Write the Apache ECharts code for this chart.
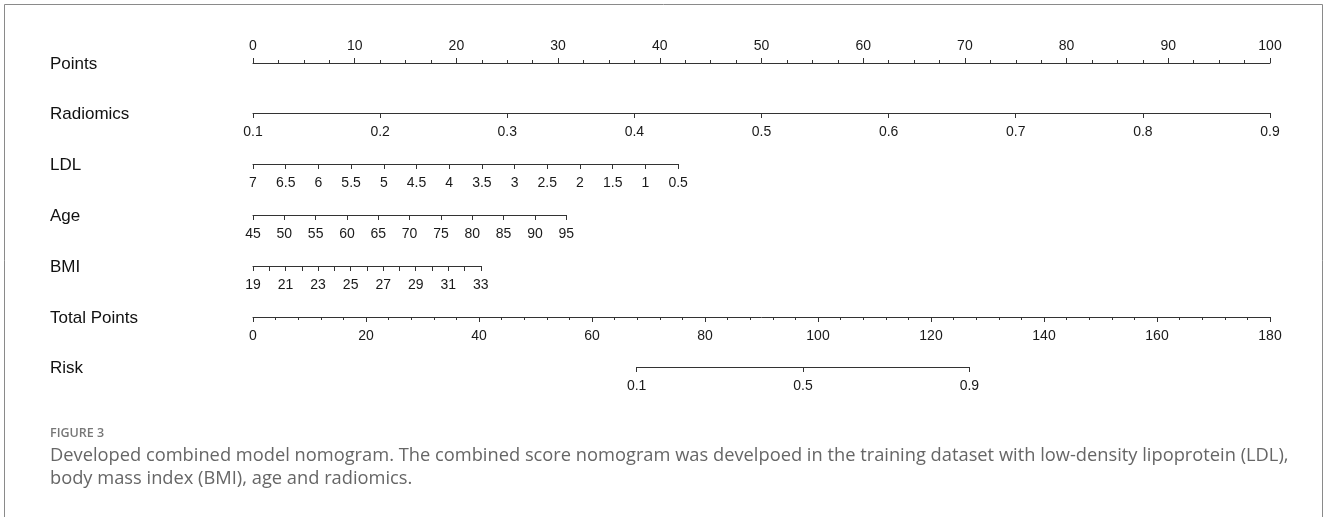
<!DOCTYPE html>
<html>
<head>
<meta charset="utf-8">
<title>Combined model nomogram</title>
<script src="https://cdn.jsdelivr.net/npm/echarts@6/dist/echarts.min.js"></script>
<style>
  html, body { margin: 0; padding: 0; background: #fff; }
  #chart { width: 1328px; height: 517px; }
</style>
</head>
<body>
<div id="chart"></div>
<script>
// ---- Nomogram scales (values as printed on each axis) ----
const rowNames = ['Points', 'Radiomics', 'LDL', 'Age', 'BMI', 'Total Points', 'Risk'];

const pointsTicks = [0, 10, 20, 30, 40, 50, 60, 70, 80, 90, 100];

const radiomicsTicks = [0.1, 0.2, 0.3, 0.4, 0.5, 0.6, 0.7, 0.8, 0.9];
const radiomicsPoints = [0, 100];          // points at first / last tick

const ldlTicks = [7, 6.5, 6, 5.5, 5, 4.5, 4, 3.5, 3, 2.5, 2, 1.5, 1, 0.5];
const ldlPoints = [0, 41.8];

const ageTicks = [45, 50, 55, 60, 65, 70, 75, 80, 85, 90, 95];
const agePoints = [0, 30.8];

const bmiTicks = [19, 20, 21, 22, 23, 24, 25, 26, 27, 28, 29, 30, 31, 32, 33];
const bmiLabels = [19, 21, 23, 25, 27, 29, 31, 33];
const bmiPoints = [0, 22.4];

const totalTicks = [0, 20, 40, 60, 80, 100, 120, 140, 160, 180];

const riskTicks = [0.1, 0.5, 0.9];
const riskTotalPoints = [67.9, 126.8];     // total points at risk 0.1 / 0.9

// ---- Layout ----
const W = 1328, H = 517;
const scaleLeft = 253, scaleRight = 1270;
const scaleWidth = scaleRight - scaleLeft;
const rowY = [63, 113, 164, 215, 266, 317, 367];
const labelX = 50;
const axisColor = '#333';
const tickFont = { fontFamily: '"Liberation Sans", Arial, sans-serif', fontSize: 14, color: '#1a1a1a' };

const logit = p => Math.log(p / (1 - p));
const ptsToPx = p => scaleLeft + p / 100 * scaleWidth;
const totalToPx = t => scaleLeft + t / totalTicks[totalTicks.length - 1] * scaleWidth;

const grids = [], xAxes = [], yAxes = [];

function addRow(idx, left, right, axis, top) {
  const y = rowY[idx];
  grids.push({ left: left, width: right - left, top: top ? y : y - 1, height: 1 });
  const g = grids.length - 1;
  yAxes.push({ gridIndex: g, show: false, min: 0, max: 1 });
  xAxes.push(Object.assign({
    gridIndex: g,
    type: 'value',
    position: top ? 'top' : 'bottom',
    splitLine: { show: false },
    axisLine: { show: true, onZero: false, lineStyle: { color: axisColor, width: 1 } }
  }, axis, {
    axisTick: Object.assign({ show: true, inside: false, length: 5, lineStyle: { color: axisColor } }, axis.axisTick || {}),
    axisLabel: Object.assign({ margin: 12 }, tickFont, axis.axisLabel || {})
  }));
}

// Points (top axis, minor ticks every 2.5)
addRow(0, ptsToPx(0), ptsToPx(100), {
  min: pointsTicks[0], max: pointsTicks[pointsTicks.length - 1], interval: 10,
  minorTick: { show: true, splitNumber: 4, length: 3, lineStyle: { color: axisColor } },
  axisLabel: { margin: 10 }
}, true);

// Radiomics
addRow(1, ptsToPx(radiomicsPoints[0]), ptsToPx(radiomicsPoints[1]), {
  min: radiomicsTicks[0], max: radiomicsTicks[radiomicsTicks.length - 1],
  axisTick: { customValues: radiomicsTicks },
  axisLabel: { customValues: radiomicsTicks, formatter: v => v.toFixed(1) }
});

// LDL (reversed)
addRow(2, ptsToPx(ldlPoints[0]), ptsToPx(ldlPoints[1]), {
  min: Math.min(...ldlTicks), max: Math.max(...ldlTicks), inverse: true,
  axisTick: { customValues: ldlTicks },
  axisLabel: { customValues: ldlTicks, formatter: v => String(v) }
});

// Age
addRow(3, ptsToPx(agePoints[0]), ptsToPx(agePoints[1]), {
  min: ageTicks[0], max: ageTicks[ageTicks.length - 1],
  axisTick: { customValues: ageTicks },
  axisLabel: { customValues: ageTicks }
});

// BMI (ticks every unit, labels every two)
addRow(4, ptsToPx(bmiPoints[0]), ptsToPx(bmiPoints[1]), {
  min: bmiTicks[0], max: bmiTicks[bmiTicks.length - 1],
  axisTick: { customValues: bmiTicks },
  axisLabel: { customValues: bmiLabels }
});

// Total Points (minor ticks every 4)
addRow(5, totalToPx(0), totalToPx(180), {
  min: totalTicks[0], max: totalTicks[totalTicks.length - 1], interval: 20,
  minorTick: { show: true, splitNumber: 5, length: 3, lineStyle: { color: axisColor } }
});

// Risk on the logit scale
const riskLogits = riskTicks.map(logit);
addRow(6, totalToPx(riskTotalPoints[0]), totalToPx(riskTotalPoints[1]), {
  min: logit(riskTicks[0]), max: logit(riskTicks[riskTicks.length - 1]),
  axisTick: { customValues: riskLogits },
  axisLabel: {
    customValues: riskLogits,
    formatter: v => String(+(1 / (1 + Math.exp(-v))).toFixed(1))
  }
});

// ---- Row names, caption and frame ----
const graphics = rowNames.map((name, i) => ({
  type: 'text', x: labelX, y: rowY[i] + 1,
  style: { text: name, fill: '#111', font: '17px "Liberation Sans", Arial, sans-serif',
           verticalAlign: 'middle', align: 'left' }
}));

const frameColor = '#8a8a8a';
const frameRight = 1322;
graphics.push(
  { type: 'line', shape: { x1: 4.5, y1: 4.5, x2: frameRight + 0.5, y2: 4.5 }, style: { stroke: frameColor, lineWidth: 1 } },
  { type: 'line', shape: { x1: 4.5, y1: 4.5, x2: 4.5, y2: H }, style: { stroke: frameColor, lineWidth: 1 } },
  { type: 'line', shape: { x1: frameRight + 0.5, y1: 4.5, x2: frameRight + 0.5, y2: H }, style: { stroke: frameColor, lineWidth: 1 } },
  { type: 'text', x: 50, y: 433,
    style: { text: 'FIGURE 3', fill: '#777', font: '600 12.5px "Open Sans", sans-serif', verticalAlign: 'middle' } },
  { type: 'text', x: 50, y: 456,
    style: { text: 'Developed combined model nomogram. The combined score nomogram was develpoed in the training dataset with low-density lipoprotein (LDL),',
             fill: '#666', font: '18.3px "Open Sans", sans-serif', verticalAlign: 'middle' } },
  { type: 'text', x: 50, y: 479,
    style: { text: 'body mass index (BMI), age and radiomics.', fill: '#666', font: '18.3px "Open Sans", sans-serif', verticalAlign: 'middle' } }
);

const chart = echarts.init(document.getElementById('chart'), null, { renderer: 'canvas', width: W, height: H });
chart.setOption({
  animation: false,
  backgroundColor: '#fff',
  grid: grids,
  xAxis: xAxes,
  yAxis: yAxes,
  graphic: graphics,
  series: []
});
</script>
</body>
</html>
